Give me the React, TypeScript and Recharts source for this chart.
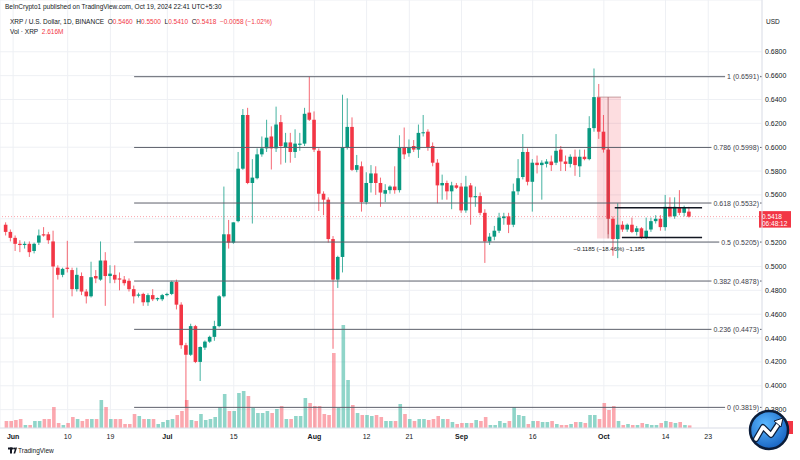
import React from 'react';
import {
  ComposedChart,
  Bar,
  XAxis,
  YAxis,
  CartesianGrid,
  ReferenceLine,
  ReferenceArea,
  Cell,
} from 'recharts';

const UP = '#089981';
const DOWN = '#f23645';
const VOL_UP = 'rgba(34,171,148,0.5)';
const VOL_DOWN = 'rgba(247,82,95,0.5)';
const TXT = '#131722';
const FONT = '"Liberation Sans", Arial, sans-serif';

// Daily candles, May 28 2024 (index 0) .. Oct 19 2024 (index 144)
const opens = [
  0.535, 0.529, 0.524, 0.519, 0.518, 0.519, 0.513, 0.52, 0.527, 0.527,
  0.521, 0.499, 0.493, 0.499, 0.497, 0.481, 0.492, 0.479, 0.475, 0.492,
  0.489, 0.505, 0.492, 0.493, 0.49, 0.489, 0.488, 0.481, 0.4755, 0.477,
  0.47, 0.476, 0.4725, 0.4725, 0.476, 0.477, 0.487, 0.468, 0.434, 0.426,
  0.45, 0.42, 0.432, 0.437, 0.441, 0.45, 0.475, 0.527, 0.52, 0.538,
  0.582, 0.627, 0.57, 0.574, 0.594, 0.599, 0.609, 0.599, 0.621, 0.6,
  0.604, 0.596, 0.602, 0.603, 0.629, 0.623, 0.597, 0.561, 0.556, 0.523,
  0.489, 0.508, 0.6, 0.617, 0.581, 0.584, 0.554, 0.57, 0.578, 0.57,
  0.561, 0.564, 0.567, 0.564, 0.6, 0.595, 0.601, 0.598, 0.612, 0.613,
  0.601, 0.587, 0.568, 0.57, 0.563, 0.568, 0.567, 0.547, 0.568, 0.558,
  0.559, 0.545, 0.521, 0.525, 0.53, 0.5405, 0.542, 0.535, 0.563, 0.575,
  0.596, 0.571, 0.587, 0.585, 0.586, 0.588, 0.587, 0.598, 0.588, 0.586,
  0.592, 0.584, 0.592, 0.59, 0.616, 0.642, 0.613, 0.598, 0.54, 0.523,
  0.535, 0.531, 0.535, 0.529, 0.532, 0.524, 0.531, 0.538, 0.54, 0.533,
  0.55, 0.542, 0.549, 0.545, 0.546,
];
const highs = [
  0.537, 0.531, 0.526, 0.522, 0.521, 0.521, 0.52, 0.531, 0.533, 0.529,
  0.53, 0.501, 0.499, 0.5215, 0.499, 0.499, 0.495, 0.481, 0.504, 0.497,
  0.521, 0.512, 0.501, 0.501, 0.495, 0.492, 0.49, 0.484, 0.478, 0.478,
  0.4775, 0.481, 0.474, 0.477, 0.478, 0.488, 0.489, 0.47, 0.436, 0.452,
  0.451, 0.433, 0.438, 0.442, 0.4545, 0.476, 0.567, 0.539, 0.537, 0.596,
  0.632, 0.633, 0.59, 0.599, 0.609, 0.623, 0.6175, 0.634, 0.627, 0.612,
  0.612, 0.615, 0.612, 0.633, 0.6591, 0.63, 0.599, 0.563, 0.558, 0.5255,
  0.509, 0.644, 0.641, 0.625, 0.5935, 0.588, 0.579, 0.585, 0.584, 0.5745,
  0.569, 0.568, 0.584, 0.61, 0.6165, 0.6065, 0.606, 0.619, 0.627, 0.615,
  0.604, 0.59, 0.577, 0.572, 0.571, 0.57, 0.57, 0.576, 0.57, 0.567,
  0.562, 0.548, 0.528, 0.534, 0.545, 0.545, 0.545, 0.5695, 0.59, 0.611,
  0.599, 0.59, 0.593, 0.589, 0.59, 0.593, 0.611, 0.601, 0.593, 0.594,
  0.598, 0.598, 0.598, 0.626, 0.666, 0.653, 0.627, 0.6, 0.542, 0.553,
  0.538, 0.536, 0.541, 0.534, 0.533, 0.541, 0.541, 0.543, 0.543, 0.56,
  0.558, 0.558, 0.564, 0.551, 0.55,
];
const lows = [
  0.526, 0.521, 0.513, 0.512, 0.515, 0.508, 0.511, 0.518, 0.525, 0.519,
  0.457, 0.489, 0.491, 0.495, 0.475, 0.479, 0.476, 0.469, 0.474, 0.486,
  0.488, 0.467, 0.486, 0.486, 0.48, 0.484, 0.479, 0.469, 0.474, 0.467,
  0.467, 0.471, 0.471, 0.471, 0.475, 0.476, 0.464, 0.431, 0.3819, 0.425,
  0.419, 0.404, 0.43, 0.436, 0.4377, 0.449, 0.474, 0.515, 0.519, 0.537,
  0.581, 0.569, 0.536, 0.573, 0.592, 0.596, 0.5813, 0.596, 0.5855, 0.587,
  0.587, 0.591, 0.597, 0.601, 0.622, 0.596, 0.5465, 0.543, 0.52, 0.431,
  0.482, 0.495, 0.598, 0.58, 0.579, 0.546, 0.552, 0.562, 0.56, 0.55,
  0.554, 0.561, 0.561, 0.562, 0.59, 0.592, 0.596, 0.591, 0.609, 0.597,
  0.584, 0.553, 0.556, 0.556, 0.548, 0.565, 0.545, 0.545, 0.535, 0.55,
  0.543, 0.503, 0.518, 0.522, 0.528, 0.535, 0.528, 0.533, 0.56, 0.573,
  0.568, 0.546, 0.578, 0.556, 0.583, 0.58, 0.585, 0.58, 0.58, 0.583,
  0.576, 0.575, 0.589, 0.589, 0.613, 0.607, 0.5955, 0.527, 0.509, 0.507,
  0.529, 0.529, 0.528, 0.526, 0.523, 0.523, 0.529, 0.536, 0.53, 0.53,
  0.541, 0.54, 0.543, 0.542, 0.541,
];
const closes = [
  0.529, 0.524, 0.519, 0.518, 0.519, 0.512, 0.519, 0.526, 0.526, 0.522,
  0.5, 0.493, 0.498, 0.498, 0.481, 0.493, 0.479, 0.475, 0.491, 0.49,
  0.505, 0.492, 0.494, 0.489, 0.489, 0.486, 0.481, 0.475, 0.4765, 0.47,
  0.476, 0.4725, 0.4735, 0.476, 0.477, 0.487, 0.468, 0.434, 0.426, 0.45,
  0.42, 0.4325, 0.437, 0.441, 0.45, 0.475, 0.527, 0.52, 0.537, 0.582,
  0.627, 0.57, 0.5745, 0.594, 0.599, 0.608, 0.599, 0.619, 0.601, 0.604,
  0.596, 0.603, 0.603, 0.628, 0.623, 0.598, 0.561, 0.556, 0.523, 0.489,
  0.508, 0.6, 0.617, 0.581, 0.585, 0.554, 0.57, 0.578, 0.57, 0.562,
  0.564, 0.567, 0.564, 0.6, 0.594, 0.6, 0.598, 0.612, 0.6125, 0.6,
  0.587, 0.568, 0.57, 0.563, 0.568, 0.566, 0.547, 0.567, 0.558, 0.559,
  0.545, 0.521, 0.525, 0.53, 0.541, 0.542, 0.535, 0.563, 0.574, 0.596,
  0.571, 0.587, 0.585, 0.587, 0.588, 0.585, 0.597, 0.588, 0.586, 0.592,
  0.585, 0.592, 0.59, 0.616, 0.642, 0.613, 0.598, 0.54, 0.523, 0.535,
  0.531, 0.535, 0.529, 0.532, 0.524, 0.53, 0.538, 0.54, 0.533, 0.55,
  0.542, 0.55, 0.545, 0.549, 0.5418,
];
// Volume, millions of XRP
const volumes = [
  7, 7, 8, 9, 3, 3, 7, 7, 9, 9,
  21, 5, 3, 5, 11, 9, 7, 9, 9, 9,
  28, 21, 9, 9, 9, 4, 4, 14, 12, 9,
  9, 9, 4, 6, 8, 9, 13, 17, 28, 8,
  7, 14, 8, 9, 11, 21, 34, 17, 17, 35,
  37, 32, 20, 15, 15, 17, 15, 19, 22, 9,
  9, 12, 12, 30, 25, 22, 22, 14, 13, 75,
  20, 103, 48, 23, 15, 13, 13, 12, 13, 11,
  7, 7, 7, 24, 14, 9, 7, 9, 9, 8,
  9, 12, 9, 9, 6, 4, 5, 5, 5, 8,
  7, 11, 3, 3, 7, 5, 7, 21, 13, 12,
  4, 7, 7, 6, 6, 7, 4, 3, 3, 4,
  6, 6, 5, 13, 13, 9, 25, 18, 22, 7,
  3, 4, 3, 3, 5, 4, 3, 3, 5, 7,
  6, 5, 6, 3, 2.616,
];

const tickDays = [1.5, 13, 22, 34, 48, 65, 76, 85, 96, 111, 126, 139, 148];
const tickLabels = ['Jun', '10', '19', 'Jul', '15', 'Aug', '12', '21', 'Sep', '16', 'Oct', '14', '23'];
const monthLabels = ['Jun', 'Jul', 'Aug', 'Sep', 'Oct'];
const priceTicks = [0.38, 0.4, 0.42, 0.44, 0.46, 0.48, 0.5, 0.52, 0.54, 0.56, 0.58, 0.6, 0.62, 0.64, 0.66, 0.68];

const fibRatios = ['1', '0.786', '0.618', '0.5', '0.382', '0.236', '0'];
const fibPrices = [0.6591, 0.5998, 0.5532, 0.5205, 0.4878, 0.4473, 0.3819];
const fibStartDay = 27.0;

const lastPrice = 0.5418;
const countdown = '06:48:12';
const rangeTop = 0.642;
const rangeBottom = 0.5235;
const rangeDays = [124.55, 129.6];
const rangeArrowDay = 126.9;
const rangeText = '\u22120.1185 (\u221218.46%) \u22121,185';
const channelTop = 0.5493;
const channelBottom = 0.5242;
const channelTopStart = 128.3;
const channelBottomStart = 129.8;
const channelEnd = 146.7;

const X_DOMAIN: [number, number] = [-1.264, 159.33];
const Y_DOMAIN: [number, number] = [0.3646, 0.7234];
const VOL_DOMAIN: [number, number] = [0, 428];

const rows = opens.map((o, i) => ({
  d: i,
  o,
  h: highs[i],
  l: lows[i],
  c: closes[i],
  v: volumes[i],
  up: closes[i] >= o,
}));

const textW = (s: string, fs: number) =>
  s.split('').reduce(
    (a, ch) => a + (ch === '.' || ch === ' ' ? 0.278 : ch === '(' || ch === ')' ? 0.333 : 0.556),
    0
  ) * fs;

const Candle = (props: any) => {
  const { x, y, width, height, payload } = props;
  if (!payload || height == null) return <g />;
  const { o, h, l, c } = payload;
  const cx = x + width / 2;
  const k = h === l ? 0 : height / (h - l);
  const yo = y + (h - o) * k;
  const yc = y + (h - c) * k;
  const top = Math.min(yo, yc);
  const bh = Math.max(Math.abs(yo - yc), 1);
  const col = c >= o ? UP : DOWN;
  return (
    <g>
      <line x1={cx} x2={cx} y1={y} y2={y + height} stroke={col} strokeWidth={1} strokeOpacity={0.75} />
      <rect x={cx - 1.8} y={top} width={3.6} height={bh} fill={col} />
    </g>
  );
};

const PriceTick = (props: any) => {
  const { x, y, payload } = props;
  if (Math.abs(payload.value - 0.54) < 1e-6) return <g />;
  return (
    <text x={x + 3} y={y} dominantBaseline="central" fontSize={7} fill={TXT} fontFamily={FONT}>
      {Number(payload.value).toFixed(4)}
    </text>
  );
};

const TimeTick = (props: any) => {
  const { x, y, payload } = props;
  const idx = tickDays.indexOf(payload.value);
  const label = idx >= 0 ? tickLabels[idx] : '';
  const bold = monthLabels.includes(label);
  return (
    <text
      x={x}
      y={y + 8}
      textAnchor="middle"
      dominantBaseline="central"
      fontSize={7}
      fontWeight={bold ? 700 : 400}
      fill={TXT}
      fontFamily={FONT}
    >
      {label}
    </text>
  );
};

const makeFibLabel = (text: string) => (props: any) => {
  const vb = props.viewBox || {};
  const xr = vb.x + vb.width - 3;
  const y = vb.y;
  const w = textW(text, 7);
  return (
    <g>
      <rect x={xr - w - 2} y={y - 4} width={w + 3} height={8} fill="#ffffff" />
      <text x={xr} y={y} textAnchor="end" dominantBaseline="central" fontSize={7} fill="#3d404a" fontFamily={FONT}>
        {text}
      </text>
    </g>
  );
};

const PriceTag = (props: any) => {
  const vb = props.viewBox || {};
  const x = vb.x + vb.width - 3;
  const y = vb.y;
  return (
    <g>
      <rect x={x} y={y - 5.5} width={32} height={16.5} fill={DOWN} />
      <text x={x + 3} y={y - 0.5} dominantBaseline="central" fontSize={6.5} fill="#ffffff" fontFamily={FONT}>
        {lastPrice.toFixed(4)}
      </text>
      <text x={x + 3} y={y + 6.5} dominantBaseline="central" fontSize={6.5} fill="#ffffff" fontFamily={FONT}>
        {countdown}
      </text>
    </g>
  );
};

const RangeLabel = (props: any) => {
  const vb = props.viewBox || {};
  return (
    <text
      x={vb.x + vb.width / 2}
      y={vb.y + vb.height + 11}
      textAnchor="middle"
      dominantBaseline="central"
      fontSize={6}
      fill={TXT}
      fontFamily={FONT}
    >
      {rangeText}
    </text>
  );
};

const red = { color: DOWN };

export default function App() {
  return (
    <div style={{ position: 'absolute', left: 0, top: 0, width: 800, height: 460, background: '#fff', fontFamily: FONT }}>
      <ComposedChart width={800} height={460} data={rows} margin={{ top: 0, right: 0, bottom: 0, left: 0 }}>
        <CartesianGrid stroke="#eef0f4" strokeWidth={1} />
        <XAxis
          type="number"
          dataKey="d"
          domain={X_DOMAIN}
          allowDataOverflow
          ticks={tickDays}
          interval={0}
          height={32}
          tickSize={0}
          tickMargin={0}
          tickLine={false}
          axisLine={{ stroke: '#e0e3eb' }}
          tick={<TimeTick />}
        />
        <XAxis xAxisId="vx" type="number" dataKey="d" domain={X_DOMAIN} allowDataOverflow hide />
        <YAxis
          orientation="right"
          type="number"
          domain={Y_DOMAIN}
          allowDataOverflow
          ticks={priceTicks}
          interval={0}
          width={38}
          tickSize={0}
          tickMargin={0}
          tickLine={false}
          axisLine={{ stroke: '#e0e3eb' }}
          tick={<PriceTick />}
        />
        <YAxis yAxisId="vy" type="number" domain={VOL_DOMAIN} allowDataOverflow hide />

        <Bar dataKey="v" xAxisId="vx" yAxisId="vy" barSize={3.6} isAnimationActive={false}>
          {rows.map((r, i) => (
            <Cell key={i} fill={r.up ? VOL_UP : VOL_DOWN} />
          ))}
        </Bar>

        <ReferenceArea
          x1={rangeDays[0]}
          x2={rangeDays[1]}
          y1={rangeBottom}
          y2={rangeTop}
          fill={DOWN}
          fillOpacity={0.17}
          stroke="none"
          label={RangeLabel}
        />

        <Bar
          dataKey={(r: any) => [r.l, r.h]}
          barSize={4}
          shape={<Candle />}
          isAnimationActive={false}
        />

        <ReferenceLine
          y={lastPrice}
          stroke={DOWN}
          strokeOpacity={0.45}
          strokeDasharray="1 2"
          label={PriceTag}
        />

        {fibPrices.map((p, i) => (
          <ReferenceLine
            key={'fib' + i}
            segment={[
              { x: fibStartDay, y: p },
              { x: X_DOMAIN[1], y: p },
            ]}
            stroke="#5d606b"
            strokeWidth={1}
            label={makeFibLabel(`${fibRatios[i]} (${p.toFixed(4)})`)}
          />
        ))}

        <ReferenceLine
          segment={[
            { x: rangeDays[0], y: rangeTop },
            { x: rangeDays[1], y: rangeTop },
          ]}
          stroke="#b9898d"
          strokeWidth={0.8}
        />
        <ReferenceLine
          segment={[
            { x: rangeArrowDay, y: rangeTop },
            { x: rangeArrowDay, y: rangeBottom },
          ]}
          stroke="#9a4a52"
          strokeWidth={0.7}
        />

        <ReferenceLine
          segment={[
            { x: channelTopStart, y: channelTop },
            { x: channelEnd, y: channelTop },
          ]}
          stroke={TXT}
          strokeWidth={1.5}
        />
        <ReferenceLine
          segment={[
            { x: channelBottomStart, y: channelBottom },
            { x: channelEnd, y: channelBottom },
          ]}
          stroke={TXT}
          strokeWidth={1.5}
        />
      </ComposedChart>

      {/* header legend */}
      <div style={{ position: 'absolute', left: 5, top: 3, fontSize: 6.5, lineHeight: '8px', color: TXT, whiteSpace: 'nowrap' }}>
        BeInCrypto1 published on TradingView.com, Oct 19, 2024 22:41 UTC+5:30
      </div>
      <div style={{ position: 'absolute', left: 10, top: 17.5, fontSize: 6.5, lineHeight: '8px', color: TXT, whiteSpace: 'nowrap' }}>
        XRP / U.S. Dollar, 1D, BINANCE&nbsp;&nbsp;O<span style={red}>0.5460</span>&nbsp;&nbsp;H<span style={red}>0.5500</span>
        &nbsp;&nbsp;L<span style={red}>0.5410</span>&nbsp;&nbsp;C<span style={red}>0.5418</span>&nbsp;&nbsp;
        <span style={red}>{'\u22120.0058 (\u22121.02%)'}</span>
      </div>
      <div style={{ position: 'absolute', left: 10, top: 27.5, fontSize: 6.5, lineHeight: '8px', color: TXT, whiteSpace: 'nowrap' }}>
        Vol · XRP&nbsp;&nbsp;<span style={red}>2.616M</span>
      </div>
      <div style={{ position: 'absolute', left: 766, top: 18, fontSize: 6.5, lineHeight: '8px', color: TXT }}>USD</div>
      <div style={{ position: 'absolute', left: 18, top: 446, fontSize: 6.5, lineHeight: '9px', color: TXT, whiteSpace: 'nowrap' }}>
        TradingView
      </div>

      <svg width={800} height={460} style={{ position: 'absolute', left: 0, top: 0, pointerEvents: 'none' }}>
        <defs>
          <radialGradient id="bic" cx="40%" cy="35%" r="70%">
            <stop offset="0%" stopColor="#5bb8ff" />
            <stop offset="100%" stopColor="#1560c0" />
          </radialGradient>
        </defs>
        {/* TradingView mark */}
        <rect x={8} y={447.5} width={5} height={2} fill={TXT} />
        <rect x={10} y={447.5} width={2} height={6} fill={TXT} />
        <circle cx={14.2} cy={448.5} r={1.1} fill={TXT} />
        <polygon points="13.5,453.5 15.2,453.5 17,447.5 15.4,447.5" fill={TXT} />
        {/* BeInCrypto badge */}
        <rect x={784} y={421} width={9} height={13} fill={DOWN} />
        <circle cx={769} cy={430} r={19} fill="url(#bic)" stroke="#0b1d3a" strokeWidth={2.5} />
        <path d="M756 439 L763 427 L771 435 L779 423" fill="none" stroke="#0b1d3a" strokeWidth={6} strokeLinejoin="round" strokeLinecap="round" />
        <path d="M756 439 L763 427 L771 435 L779 423" fill="none" stroke="#ffffff" strokeWidth={3.5} strokeLinejoin="round" strokeLinecap="round" />
        <polygon points="774,421 783,418 781,427" fill="#ffffff" stroke="#0b1d3a" strokeWidth={1} />
      </svg>
    </div>
  );
}
